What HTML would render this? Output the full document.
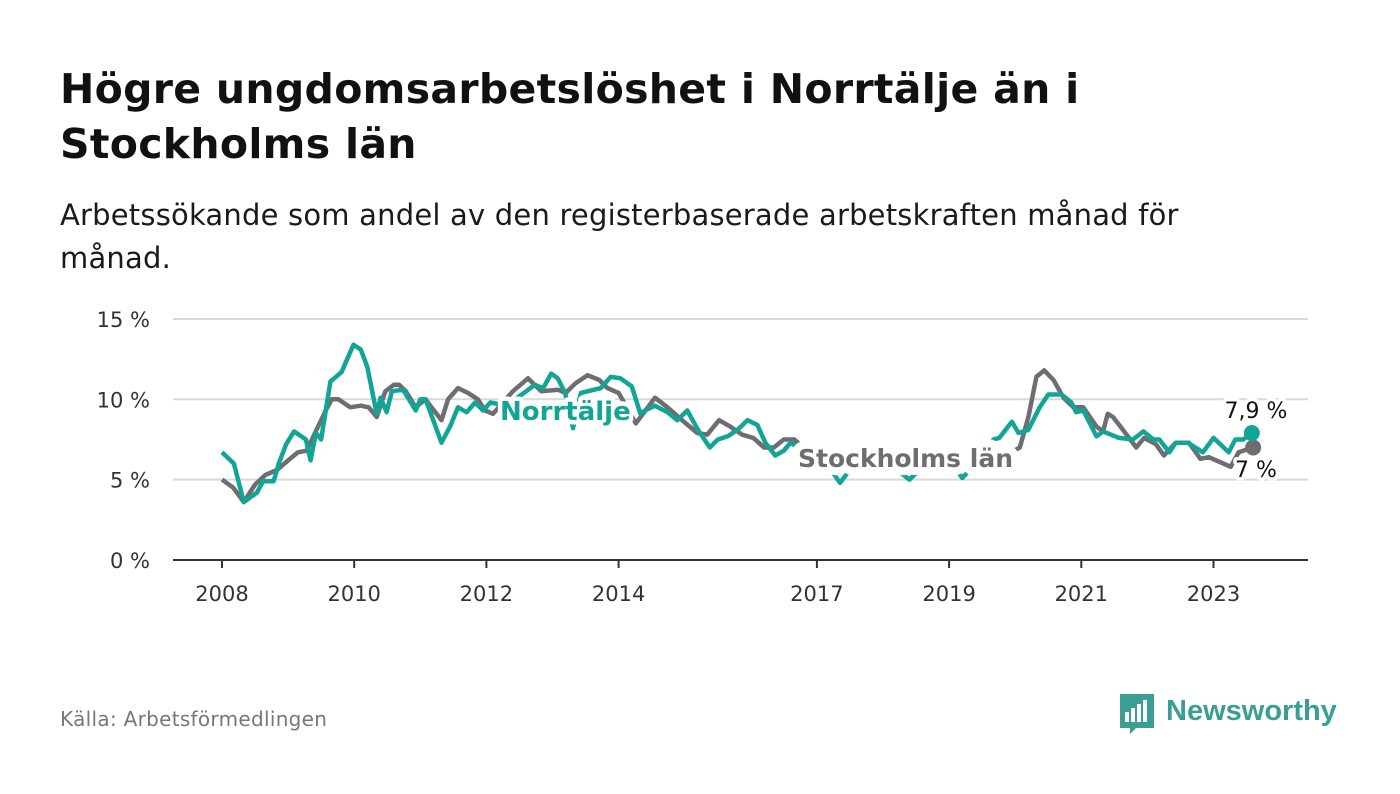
<!DOCTYPE html>
<html><head><meta charset="utf-8"><style>
body{margin:0;background:#fff;width:1400px;height:794px;overflow:hidden;font-family:"DejaVu Sans",sans-serif}
h1{position:absolute;left:60px;top:62px;margin:0;font-size:41px;line-height:55px;font-weight:bold;color:#111;letter-spacing:0.3px}
.sub{position:absolute;left:60px;top:194px;font-size:29px;line-height:43px;color:#1a1a1a;letter-spacing:0.2px}
.src{position:absolute;left:60px;top:707px;font-size:20px;color:#777;letter-spacing:0.3px}
svg{position:absolute;left:0;top:0}
</style></head><body>
<h1>Högre ungdomsarbetslöshet i Norrtälje än i<br>Stockholms län</h1>
<div class="sub">Arbetssökande som andel av den registerbaserade arbetskraften månad för<br>månad.</div>
<div class="src">Källa: Arbetsförmedlingen</div>
<svg id="c" width="1400" height="794" font-family="DejaVu Sans, sans-serif"></svg>
<script>
const yTicks=[0,5,10,15];
const xTicks=[2008,2010,2012,2014,2017,2019,2021,2023];
const nT=[2008.0,2008.18,2008.33,2008.53,2008.62,2008.78,2008.86,2008.97,2009.09,2009.27,2009.34,2009.42,2009.5,2009.64,2009.81,2009.99,2010.1,2010.2,2010.34,2010.4,2010.49,2010.57,2010.74,2010.93,2011.0,2011.08,2011.32,2011.45,2011.57,2011.7,2011.83,2011.95,2012.06,2012.3,2012.6,2012.73,2012.86,2012.98,2013.08,2013.19,2013.31,2013.43,2013.73,2013.88,2014.03,2014.13,2014.2,2014.33,2014.4,2014.55,2014.74,2014.89,2015.04,2015.2,2015.38,2015.5,2015.65,2015.8,2015.95,2016.1,2016.22,2016.37,2016.5,2016.6,2016.8,2017.1,2017.35,2017.6,2018.0,2018.4,2018.7,2019.0,2019.2,2019.45,2019.67,2019.76,2019.95,2020.05,2020.2,2020.37,2020.5,2020.7,2020.85,2020.92,2021.03,2021.23,2021.33,2021.57,2021.78,2021.94,2022.09,2022.18,2022.33,2022.43,2022.61,2022.84,2023.0,2023.23,2023.33,2023.45,2023.58];
const nV=[6.7,6.0,3.6,4.2,4.9,4.9,6.0,7.2,8.0,7.5,6.2,7.9,7.5,11.1,11.7,13.4,13.1,12.0,9.1,10.1,9.2,10.5,10.6,9.3,10.0,10.0,7.3,8.3,9.5,9.2,9.8,9.3,9.8,9.6,10.5,10.9,10.7,11.6,11.3,10.4,8.2,10.4,10.7,11.4,11.3,11.0,10.8,9.1,9.3,9.6,9.2,8.7,9.3,8.1,7.0,7.5,7.7,8.1,8.7,8.4,7.3,6.5,6.8,7.3,6.8,6.3,4.8,6.2,6.3,5.0,6.2,6.3,5.1,6.2,7.5,7.6,8.6,7.9,8.1,9.5,10.3,10.3,9.8,9.2,9.3,7.7,8.0,7.6,7.5,8.0,7.5,7.5,6.7,7.3,7.3,6.7,7.6,6.7,7.5,7.5,7.9];
const sT=[2008.0,2008.17,2008.33,2008.5,2008.66,2008.83,2009.0,2009.15,2009.28,2009.43,2009.57,2009.66,2009.76,2009.94,2010.1,2010.22,2010.34,2010.47,2010.6,2010.68,2010.78,2010.93,2011.08,2011.17,2011.32,2011.42,2011.57,2011.72,2011.87,2011.98,2012.1,2012.4,2012.63,2012.83,2013.08,2013.2,2013.35,2013.53,2013.71,2013.83,2014.0,2014.26,2014.55,2014.74,2014.99,2015.19,2015.34,2015.52,2015.69,2015.87,2016.04,2016.2,2016.35,2016.5,2016.66,2016.9,2017.3,2017.8,2018.3,2018.8,2019.3,2019.8,2020.07,2020.2,2020.32,2020.44,2020.58,2020.73,2020.88,2021.03,2021.23,2021.33,2021.4,2021.48,2021.63,2021.83,2021.95,2022.13,2022.25,2022.43,2022.63,2022.8,2022.93,2023.26,2023.38,2023.6];
const sV=[5.0,4.5,3.6,4.7,5.3,5.6,6.2,6.7,6.8,8.1,9.3,10.0,10.0,9.5,9.6,9.5,8.9,10.5,10.9,10.9,10.5,9.5,10.0,9.5,8.7,10.0,10.7,10.4,10.0,9.3,9.1,10.5,11.3,10.5,10.6,10.4,11.0,11.5,11.2,10.7,10.4,8.5,10.1,9.5,8.6,7.9,7.8,8.7,8.3,7.8,7.6,7.0,7.0,7.5,7.5,6.6,6.2,6.0,6.2,6.3,6.0,6.4,7.0,8.9,11.4,11.8,11.2,10.1,9.5,9.5,8.3,8.0,9.1,8.9,8.1,7.0,7.6,7.2,6.5,7.3,7.3,6.3,6.4,5.8,6.7,7.0];
const NS="http://www.w3.org/2000/svg",svg=document.getElementById('c');
const X=t=>222+(t-2008)*66.1, Y=v=>560-v*16.07;
function el(tag,a,txt){const e=document.createElementNS(NS,tag);for(const k in a)e.setAttribute(k,a[k]);if(txt!=null)e.textContent=txt;svg.appendChild(e);return e;}
yTicks.forEach(v=>{
 if(v>0){const g=el('line',{x1:173,x2:1308,y1:Y(v),y2:Y(v),stroke:'#d9d9d9','stroke-width':2});
 
 }
 const t=el('text',{x:150,y:Y(v)+8,'text-anchor':'end','font-size':21,fill:'#333'},v+' %');
 
 
});
const ax=el('line',{x1:173,x2:1308,y1:560,y2:560,stroke:'#333','stroke-width':2});


xTicks.forEach(y=>{
 const tk=el('line',{x1:X(y),x2:X(y),y1:560,y2:568,stroke:'#333','stroke-width':2});
 
 
 const t=el('text',{x:X(y),y:601,'text-anchor':'middle','font-size':21,fill:'#333'},String(y));
 
 
});
function line(T,V,c,name){const d=T.map((t,i)=>(i?'L':'M')+X(t).toFixed(1)+','+Y(V[i]).toFixed(1)).join('');
 const p=el('path',{d:d,fill:'none',stroke:c,'stroke-width':4.5,'stroke-linejoin':'round'});
 
 }
line(sT,sV,'#6e6d72','stockholm-line');
line(nT,nV,'#12a596','norrtalje-line');
const d1=el('circle',{cx:X(sT[sT.length-1]),cy:Y(sV[sV.length-1]),r:8,fill:'#6e6d72'});


const d2=el('circle',{cx:X(nT[nT.length-1]),cy:Y(nV[nV.length-1]),r:8,fill:'#12a596'});


const lab=(x,y,txt,c,sz,w,sw,name,anchor)=>{const t=el('text',{x:x,y:y,'font-size':sz,'font-weight':w,fill:c,stroke:'#fff','stroke-width':sw,'paint-order':'stroke','stroke-linejoin':'round','text-anchor':anchor||'start'},txt);
 
 };
lab(500,420,'Norrtälje','#12a596',26,'bold',9,'norrtalje-label');
lab(798,467,'Stockholms län','#6e6d72',25,'bold',16,'stockholm-label');
lab(1256,418,'7,9 %','#111',22,'normal',7,'norrtalje-end-value','middle');
lab(1256,477,'7 %','#111',22,'normal',7,'stockholm-end-value','middle');
</script>
<svg width="1400" height="794" style="position:absolute;left:0;top:0">
<path d="M1120 694h34v34h-18l-6 6v-6h-10z" fill="#3a9e95"/>
<rect x="1125" y="712" width="4" height="10" fill="#fff"/><rect x="1131" y="708" width="4" height="14" fill="#fff"/><rect x="1137" y="704" width="4" height="18" fill="#fff"/><rect x="1143" y="700" width="4" height="22" fill="#fff"/>
<text x="1166" y="720" font-size="29" font-weight="bold" fill="#3a9e95" font-family="Liberation Sans, sans-serif">Newsworthy</text>
</svg>
</body></html>
